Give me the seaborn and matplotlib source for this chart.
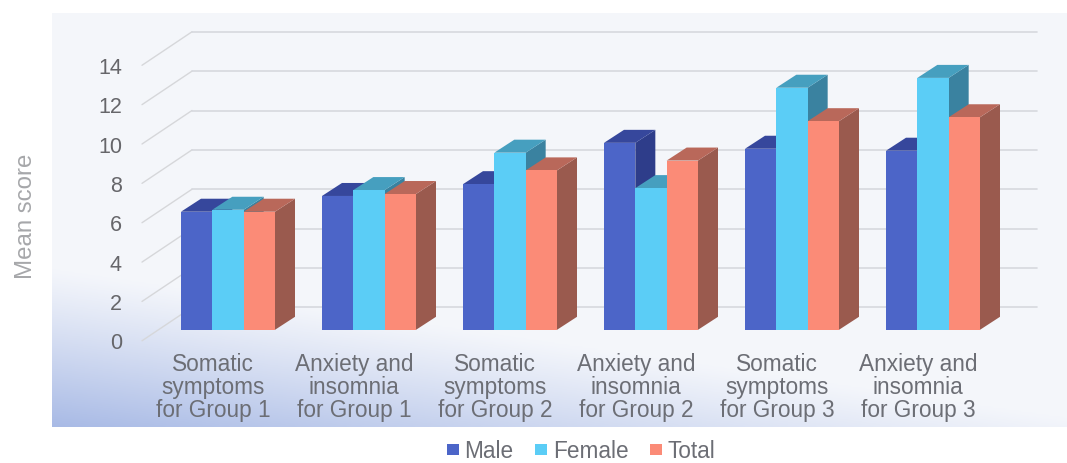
import numpy as np
import pandas as pd
import seaborn as sns
import matplotlib.pyplot as plt
from matplotlib.patches import Polygon
from matplotlib.transforms import ScaledTranslation

# values
categories = ['Somatic\nsymptoms\nfor Group 1', 'Anxiety and\ninsomnia\nfor Group 1',
              'Somatic\nsymptoms\nfor Group 2', 'Anxiety and\ninsomnia\nfor Group 2',
              'Somatic\nsymptoms\nfor Group 3', 'Anxiety and\ninsomnia\nfor Group 3']
male = [6.0, 6.8, 7.4, 9.5, 9.2, 9.1]
female = [6.1, 7.1, 9.0, 7.2, 12.3, 12.8]
total = [6.0, 6.9, 8.1, 8.6, 10.6, 10.8]
y_ticks = [0, 2, 4, 6, 8, 10, 12, 14]

front_colors = ['#4c65c8', '#5bcdf6', '#fb8b77']
top_colors = ['#36479c', '#469fbf', '#b9685a']
side_colors = ['#2e3d8a', '#3a82a0', '#9a5a4e']

# pixel scale of the plot
px_x = 141.0
px_y = 19.68
depth_x = 20 / px_x
depth_y = 13 / px_y

sns.set_theme(style='white')
plt.rcParams['font.family'] = ['Liberation Sans', 'DejaVu Sans']

df = pd.DataFrame({
    'group': categories * 3,
    'sex': ['Male'] * 6 + ['Female'] * 6 + ['Total'] * 6,
    'score': male + female + total,
})

fig = plt.figure(figsize=(10.67, 4.64), dpi=100)
ax = fig.add_axes([52 / 1067, 36.2 / 464, 1015 / 1067, 414 / 464])

sns.barplot(data=df, x='group', y='score', hue='sex', palette=front_colors,
            width=94 / 141, gap=0, saturation=1, linewidth=0, ax=ax)

x0, x1 = (52 - 228) / px_x, (1067 - 228) / px_x
y0, y1 = (330 - 427) / px_y, (330 - 13) / px_y

# panel background, pale with a blue corner at the bottom left
yy, xx = np.mgrid[0:1:200j, 0:1:400j]
fade = np.clip((yy - 0.62 - 0.36 * xx) / 0.38, 0, 1) ** 1.1
pale = np.array([0.957, 0.965, 0.984])
blue = np.array([0.66, 0.73, 0.90])
bg = pale + fade[..., None] * (blue - pale)
ax.imshow(bg, extent=[x0, x1, y0, y1], origin='upper', aspect='auto', zorder=0)

# back wall lines and the slanted bits on the left
for v in y_ticks:
    back = v + 22.5 / px_y
    front = v - 11 / px_y
    ax.plot([(142 - 228) / px_x, (192 - 228) / px_x], [front, back], color='#d6d7da', lw=1.0, zorder=1)
    ax.plot([(192 - 228) / px_x, (1037 - 228) / px_x], [back, back], color='#d6d8de', lw=1.2, zorder=1)

# fake 3d sides and tops
for i, cont in enumerate(ax.containers):
    for j, bar in enumerate(cont):
        x = bar.get_x()
        w = bar.get_width()
        h = bar.get_height()
        z = 3 + j * 3 + i
        bar.set_zorder(z + 0.2)
        ax.add_patch(Polygon([(x + w, 0), (x + w + depth_x, depth_y), (x + w + depth_x, h + depth_y), (x + w, h)],
                             facecolor=side_colors[i], edgecolor='none', zorder=z))
        ax.add_patch(Polygon([(x, h), (x + depth_x, h + depth_y), (x + w + depth_x, h + depth_y), (x + w, h)],
                             facecolor=top_colors[i], edgecolor='none', zorder=z + 0.1))

ax.set_xlim(x0, x1)
ax.set_ylim(y0, y1)
sns.despine(ax=ax, left=True, bottom=True)

ax.set_yticks(y_ticks)
ax.set_yticklabels([str(v) for v in y_ticks])
ax.tick_params(axis='y', length=0, pad=-50.4, labelsize=15.5, labelcolor='#66666a')
ax.tick_params(axis='x', length=0, pad=-54, labelsize=16.3, labelcolor='#6c6e75')
for lab in ax.get_yticklabels():
    lab.set_transform(lab.get_transform() + ScaledTranslation(0, -10.5 / 100, fig.dpi_scale_trans))
for lab in ax.get_xticklabels():
    lab.set_linespacing(1.0)
    lab.set_transform(lab.get_transform() + ScaledTranslation(-15 / 100, 0, fig.dpi_scale_trans))

ax.set_xlabel('')
ax.set_ylabel('Mean score', fontsize=17.3, color='#a6a7aa')
ax.yaxis.set_label_coords((37 - 52) / 1015, (427 - 216) / 414)

sns.move_legend(ax, 'center', bbox_to_anchor=(581 / 1067, 1 - 452 / 464), bbox_transform=fig.transFigure,
                ncol=3, frameon=False, title=None, fontsize=16.3, handlelength=0.53, handleheight=0.42,
                handletextpad=0.25, columnspacing=0.95, labelcolor='#6c6e75', borderpad=0)

fig.savefig('out.png', dpi=100)
